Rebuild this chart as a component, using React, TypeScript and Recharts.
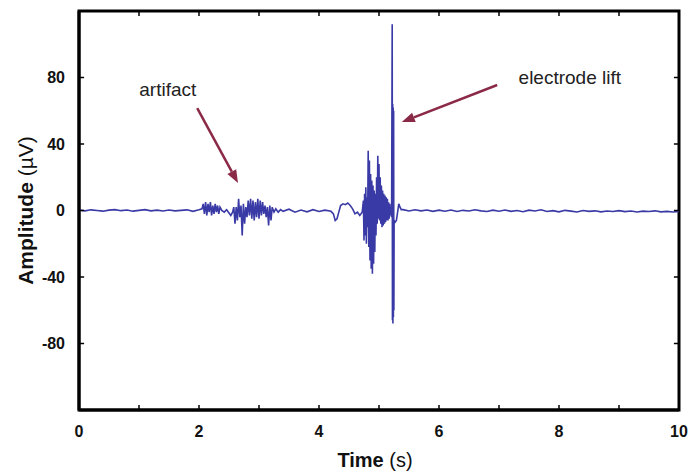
import { LineChart, Line, XAxis, YAxis, ReferenceLine, ReferenceDot, ReferenceArea } from 'recharts';

// EMG trace as [time (s), amplitude (µV)]
const baselineStart = [
  [0, 0.3], [0.1, -0.2], [0.2, 0.4], [0.3, 0], [0.4, -0.4], [0.5, 0.2], [0.6, 0.5], [0.7, -0.1],
  [0.8, 0.3], [0.9, -0.4], [1.0, 0.1], [1.1, 0.5], [1.2, -0.2], [1.3, 0.2], [1.4, -0.3], [1.5, 0.3],
  [1.6, -0.2], [1.7, 0.1], [1.8, 0.4], [1.9, -0.5], [2.0, 0.4],
];

const artifactBurst = [
  [2.05, 1], [2.07, 4], [2.09, -2], [2.11, 5], [2.13, -3], [2.15, 4], [2.17, -1], [2.19, 5],
  [2.21, -3], [2.23, 3], [2.25, -2], [2.27, 4], [2.29, -1], [2.31, 3], [2.33, -2], [2.35, 2],
  [2.38, 0], [2.42, -1], [2.46, 0.5], [2.5, -1.5], [2.53, -3], [2.56, -1], [2.58, 2], [2.6, -8],
  [2.62, 2], [2.64, -6], [2.66, 7], [2.68, -4], [2.7, 3], [2.72, -15], [2.74, 4], [2.76, -8],
  [2.78, 2], [2.8, -4], [2.82, 6], [2.84, -3], [2.86, 7], [2.88, -5], [2.9, 6], [2.92, -6],
  [2.94, 5], [2.96, -4], [2.98, 7], [3.0, -5], [3.02, 6], [3.04, -3], [3.06, 5], [3.08, -2],
  [3.1, 3], [3.12, -4], [3.14, 2], [3.16, -9], [3.18, 3], [3.2, -6], [3.22, 2], [3.25, -1],
  [3.28, 1], [3.32, -1], [3.36, 0.5],
];

const quietGap = [
  [3.4, -0.5], [3.5, 0.8], [3.6, -1], [3.7, 0.3], [3.8, -0.8], [3.9, 0.5], [4.0, -0.6], [4.1, 0.2],
  [4.2, -0.5], [4.24, -2], [4.27, -6], [4.3, -5], [4.33, -1], [4.36, 3], [4.4, 4], [4.44, 3.5],
  [4.48, 4.5], [4.52, 3], [4.56, 1], [4.6, -2], [4.64, -1], [4.68, -3], [4.72, -1],
];

const liftBurst = [
  [4.74, 6], [4.75, -18], [4.76, 10], [4.77, -15], [4.78, 14], [4.79, -20], [4.8, 8], [4.81, -10],
  [4.82, 36], [4.83, -22], [4.84, 30], [4.85, -30], [4.86, 22], [4.87, -35], [4.88, 18], [4.89, -38],
  [4.9, 15], [4.91, -32], [4.92, 12], [4.93, -25], [4.94, 10], [4.95, -15], [4.96, 20], [4.97, -8],
  [4.98, 33], [4.99, -5], [5.0, 28], [5.01, -6], [5.02, 20], [5.03, -8], [5.04, 15], [5.05, -10],
  [5.06, 12], [5.07, -9], [5.08, 10], [5.09, -8], [5.1, 9], [5.11, -7], [5.12, 8], [5.13, -6],
  [5.14, 7], [5.15, -6], [5.16, 5], [5.17, -5], [5.18, 4], [5.19, -3], [5.2, 2], [5.21, -4],
  [5.22, 112], [5.224, -66], [5.228, 64], [5.232, -68], [5.236, 62], [5.24, -64], [5.244, 60],
  [5.248, -60], [5.252, -6], [5.27, -7], [5.29, -6], [5.31, -1], [5.33, 4], [5.35, 2], [5.37, 0.5],
];

const baselineEnd = [
  [5.4, 0.5], [5.5, -0.3], [5.6, 0.4], [5.7, -0.2], [5.8, 0.3], [5.9, -0.5], [6.0, 0.2], [6.1, -0.4],
  [6.2, 0.3], [6.3, -0.6], [6.4, 0.1], [6.5, -0.3], [6.6, 0.4], [6.7, -0.2], [6.8, -0.6], [6.9, 0.2],
  [7.0, -0.4], [7.1, 0.3], [7.2, -0.5], [7.3, 0], [7.4, -0.7], [7.5, 0.2], [7.6, -0.3], [7.7, 0.4],
  [7.8, -0.6], [7.9, -0.1], [8.0, -0.8], [8.1, 0.1], [8.2, -0.4], [8.3, -0.9], [8.4, 0], [8.5, -0.5],
  [8.6, -0.2], [8.7, -0.8], [8.8, -0.3], [8.9, -0.6], [9.0, -0.1], [9.1, -0.7], [9.2, -0.3], [9.3, -0.9],
  [9.4, -0.4], [9.5, -0.6], [9.6, -0.2], [9.7, -0.8], [9.8, -0.5], [9.9, -0.9], [10, -0.6],
];

const xTicks = [0, 1, 2, 3, 4, 5, 6, 7, 8, 9, 10];
const yTicks = [-80, -40, 0, 40, 80];
const xDomain = [0, 10];
const yDomain = [-120, 120];

const FONT = '"Liberation Sans", Arial, Helvetica, sans-serif';
const TRACE = '#3a3aa6';
const ARROW = '#8b2a47';

const data = [...baselineStart, ...artifactBurst, ...quietGap, ...liftBurst, ...baselineEnd].map(
  ([t, v]) => ({ t, v })
);

// inner tick lengths in data units (~5px)
const xTickLen = 3;
const yTickLen = 0.085;

const Arrow = (props: any) => {
  const { x1, y1, x2, y2 } = props;
  const ang = Math.atan2(y2 - y1, x2 - x1);
  const len = 13;
  const half = 5;
  const bx = x2 - len * Math.cos(ang);
  const by = y2 - len * Math.sin(ang);
  const pts = [
    [x2, y2],
    [bx + half * Math.sin(ang), by - half * Math.cos(ang)],
    [bx - half * Math.sin(ang), by + half * Math.cos(ang)],
  ]
    .map((p) => p.join(','))
    .join(' ');
  return (
    <g>
      <line x1={x1} y1={y1} x2={bx} y2={by} stroke={ARROW} strokeWidth={2.5} />
      <polygon points={pts} fill={ARROW} />
    </g>
  );
};

const note = (text: string) => (props: any) => (
  <text x={props.cx} y={props.cy} textAnchor="middle" dominantBaseline="central"
    fontFamily={FONT} fontSize={19} fill="#222">
    {text}
  </text>
);

const XTitle = (props: any) => {
  const vb = props.viewBox;
  return (
    <text x={vb.x + vb.width / 2 - 4} y={vb.y + 57} textAnchor="middle" fontFamily={FONT} fontSize={20} fill="#111">
      <tspan fontWeight={700}>Time</tspan> (s)
    </text>
  );
};

const YTitle = (props: any) => {
  const vb = props.viewBox;
  const cx = 25;
  const cy = vb.y + vb.height / 2;
  return (
    <text x={cx} y={cy} textAnchor="middle" dominantBaseline="central" transform={`rotate(-90 ${cx} ${cy})`}
      fontFamily={FONT} fontSize={21} fill="#111">
      <tspan fontWeight={700}>Amplitude</tspan> (µV)
    </text>
  );
};

const tickStyle = { fill: '#111', fontSize: 16, fontWeight: 700, fontFamily: FONT };
const axisLine = { stroke: '#000', strokeWidth: 3 };

const innerTick = (p: any) => <line x1={p.x1} y1={p.y1} x2={p.x2} y2={p.y2} stroke="#000" strokeWidth={1.5} />;

export default function App() {
  return (
    <div style={{ width: 691, height: 475, background: '#fff' }}>
      <style>{'body{margin:0}'}</style>
      <LineChart width={691} height={475} data={data} margin={{ top: 11, right: 12, bottom: 0, left: 0 }}>
        <XAxis
          dataKey="t"
          type="number"
          domain={xDomain}
          ticks={xTicks}
          tickFormatter={(v: number) => (v % 2 === 0 ? String(v) : '')}
          height={65}
          tickSize={0}
          tickMargin={16}
          tick={tickStyle}
          axisLine={axisLine}
          tickLine={false}
          interval={0}
          label={{ content: XTitle }}
        />
        <YAxis
          type="number"
          domain={yDomain}
          ticks={yTicks}
          width={79}
          tickSize={0}
          tickMargin={14}
          tick={tickStyle}
          axisLine={axisLine}
          tickLine={false}
          interval={0}
          label={{ content: YTitle }}
        />
        <Line
          type="linear"
          dataKey="v"
          stroke={TRACE}
          strokeWidth={1.6}
          dot={false}
          isAnimationActive={false}
        />
        {xTicks.slice(1, -1).map((k) => (
          <ReferenceLine key={`xb${k}`} segment={[{ x: k, y: yDomain[0] }, { x: k, y: yDomain[0] + xTickLen }]} shape={innerTick} />
        ))}
        {xTicks.slice(1, -1).map((k) => (
          <ReferenceLine key={`xt${k}`} segment={[{ x: k, y: yDomain[1] }, { x: k, y: yDomain[1] - xTickLen }]} shape={innerTick} />
        ))}
        {yTicks.map((k) => (
          <ReferenceLine key={`yl${k}`} segment={[{ x: xDomain[0], y: k }, { x: xDomain[0] + yTickLen, y: k }]} shape={innerTick} />
        ))}
        {yTicks.map((k) => (
          <ReferenceLine key={`yr${k}`} segment={[{ x: xDomain[1], y: k }, { x: xDomain[1] - yTickLen, y: k }]} shape={innerTick} />
        ))}
        <ReferenceArea
          x1={xDomain[0]}
          x2={xDomain[1]}
          y1={yDomain[0]}
          y2={yDomain[1]}
          fill="none"
          fillOpacity={0}
          stroke="#000"
          strokeWidth={3}
          ifOverflow="visible"
        />
        <ReferenceLine segment={[{ x: 1.97, y: 61.6 }, { x: 2.65, y: 16.5 }]} shape={Arrow} ifOverflow="visible" />
        <ReferenceLine segment={[{ x: 6.97, y: 75.5 }, { x: 5.38, y: 53.2 }]} shape={Arrow} ifOverflow="visible" />
        <ReferenceDot x={1.48} y={72.5} r={0} shape={note('artifact')} ifOverflow="visible" />
        <ReferenceDot x={8.18} y={79.7} r={0} shape={note('electrode lift')} ifOverflow="visible" />
      </LineChart>
    </div>
  );
}
